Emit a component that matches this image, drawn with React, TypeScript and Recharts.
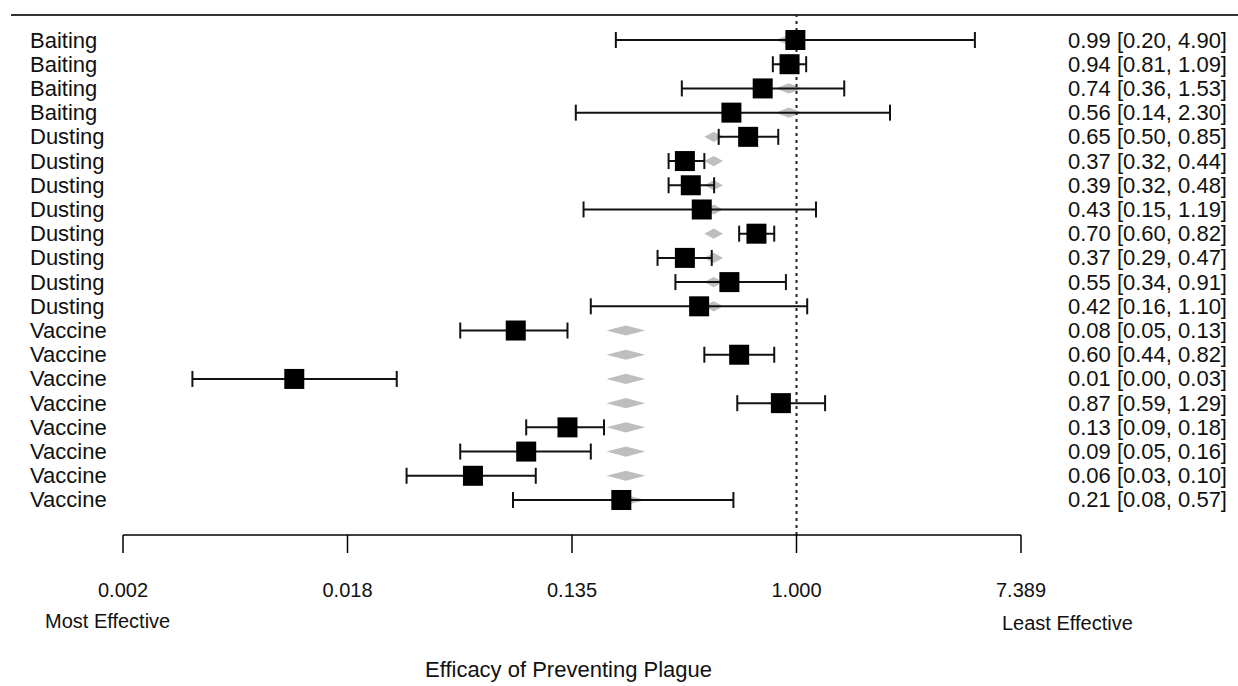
import React from "react";
import {
  ScatterChart,
  Scatter,
  XAxis,
  YAxis,
  ErrorBar,
  ReferenceLine,
  ReferenceArea,
} from "recharts";

const FONT = '"Liberation Sans", Arial, Helvetica, sans-serif';

// one row per study, top to bottom
const categories = [
  "Baiting", "Baiting", "Baiting", "Baiting",
  "Dusting", "Dusting", "Dusting", "Dusting", "Dusting", "Dusting", "Dusting", "Dusting",
  "Vaccine", "Vaccine", "Vaccine", "Vaccine", "Vaccine", "Vaccine", "Vaccine", "Vaccine",
];
const estimates = [0.99, 0.94, 0.74, 0.56, 0.65, 0.37, 0.39, 0.43, 0.70, 0.37, 0.55, 0.42, 0.082, 0.60, 0.0114, 0.87, 0.13, 0.09, 0.056, 0.21];
const lower = [0.20, 0.81, 0.36, 0.14, 0.50, 0.32, 0.32, 0.15, 0.60, 0.29, 0.34, 0.16, 0.05, 0.44, 0.0046, 0.59, 0.09, 0.05, 0.031, 0.08];
const upper = [4.90, 1.09, 1.53, 2.30, 0.85, 0.44, 0.48, 1.19, 0.82, 0.47, 0.91, 1.10, 0.13, 0.82, 0.0284, 1.29, 0.18, 0.16, 0.098, 0.57];

// fitted value per intervention (grey diamonds)
const groups = ["Baiting", "Dusting", "Vaccine"];
const fitEst = [0.935, 0.48, 0.219];
const fitLower = [0.829, 0.44, 0.184];
const fitUpper = [1.054, 0.52, 0.26];

const xTicks = [-6, -4, -2, 0, 2]; // log scale: e^-6 .. e^2

const rows = estimates.map((est, i) => {
  const x = Math.log(est);
  return {
    row: i,
    x,
    err: [x - Math.log(lower[i]), Math.log(upper[i]) - x],
  };
});

function fmt(n: number) {
  return n.toFixed(2);
}

const ciLabels = estimates.map((e, i) => `${fmt(e)} [${fmt(lower[i])}, ${fmt(upper[i])}]`);

const Square = (props: any) => {
  const { cx, cy } = props;
  if (cx == null || cy == null) return null;
  return <rect x={cx - 10} y={cy - 10} width={20} height={20} fill="#000" />;
};

const Diamond = (props: any) => {
  const { x, y, width, height } = props;
  const cx = x + width / 2;
  const cy = y + height / 2;
  return (
    <polygon
      points={`${x},${cy} ${cx},${y} ${x + width},${cy} ${cx},${y + height}`}
      fill="#bebebe"
      stroke="none"
    />
  );
};

const LeftTick = (props: any) => {
  const { y, payload } = props;
  return (
    <text x={30} y={y} dominantBaseline="central" textAnchor="start" fontSize={22} fontFamily={FONT} fill="#111">
      {categories[payload.value]}
    </text>
  );
};

const RightTick = (props: any) => {
  const { y, payload } = props;
  return (
    <text x={1227} y={y} dominantBaseline="central" textAnchor="end" fontSize={22} fontFamily={FONT} fill="#111">
      {ciLabels[payload.value]}
    </text>
  );
};

const textStyle: React.CSSProperties = {
  position: "absolute",
  fontFamily: FONT,
  color: "#111",
  whiteSpace: "nowrap",
  lineHeight: 1,
};

export default function App() {
  const rowTicks = rows.map((r) => r.row);
  return (
    <div style={{ position: "absolute", left: 0, top: 0, width: 1238, height: 686, background: "#fff" }}>
      {/* top rule */}
      <div style={{ position: "absolute", left: 11, top: 14, width: 1227, height: 2, background: "#333" }} />
      <ScatterChart width={1238} height={686} margin={{ top: 15, right: 0, bottom: 0, left: 0 }}>
        <XAxis
          type="number"
          dataKey="x"
          domain={[-6, 2]}
          ticks={xTicks}
          tickFormatter={(v: number) => Math.exp(v).toFixed(3)}
          tickSize={18}
          tickMargin={30}
          height={151}
          stroke="#000"
          strokeWidth={1.5}
          tick={{ fontSize: 20, fontFamily: FONT, fill: "#111" }}
          allowDataOverflow
        />
        <YAxis
          yAxisId="left"
          type="number"
          dataKey="row"
          domain={[-1.033, 20.446]}
          reversed
          ticks={rowTicks}
          interval={0}
          width={123}
          axisLine={false}
          tickLine={false}
          tick={<LeftTick />}
          allowDataOverflow
        />
        <YAxis
          yAxisId="right"
          orientation="right"
          type="number"
          dataKey="row"
          domain={[-1.033, 20.446]}
          reversed
          ticks={rowTicks}
          interval={0}
          width={217}
          axisLine={false}
          tickLine={false}
          tick={<RightTick />}
          allowDataOverflow
        />
        {categories.map((c, i) => {
          const g = groups.indexOf(c);
          return (
            <ReferenceArea
              key={"d" + i}
              yAxisId="left"
              x1={Math.log(fitLower[g])}
              x2={Math.log(fitUpper[g])}
              y1={i - 0.21}
              y2={i + 0.21}
              shape={<Diamond />}
            />
          );
        })}
        <ReferenceLine yAxisId="left" x={0} stroke="#222" strokeWidth={2} strokeDasharray="3 4" />
        <Scatter yAxisId="left" data={rows} shape={<Square />} isAnimationActive={false}>
          <ErrorBar dataKey="err" direction="x" width={8} stroke="#111" strokeWidth={2} isAnimationActive={false} />
        </Scatter>
      </ScatterChart>
      <div style={{ ...textStyle, left: 45, top: 611, fontSize: 20 }}>Most Effective</div>
      <div style={{ ...textStyle, left: 1002, top: 613, fontSize: 20 }}>Least Effective</div>
      <div style={{ ...textStyle, left: 425, top: 659, fontSize: 22 }}>Efficacy of Preventing Plague</div>
    </div>
  );
}
